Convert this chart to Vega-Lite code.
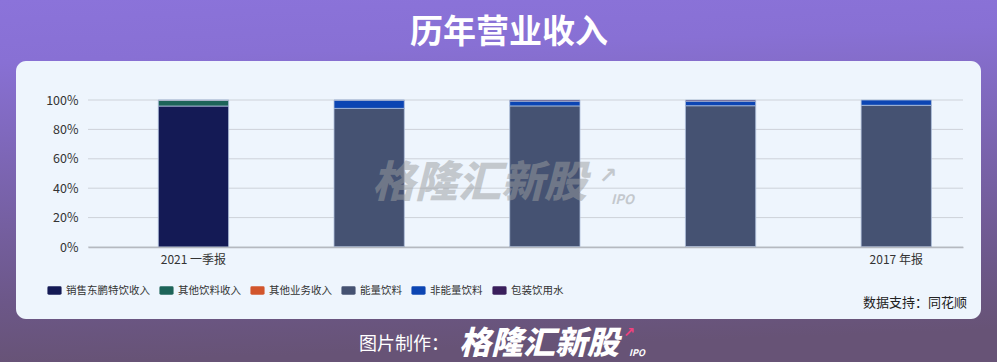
{
  "$schema": "https://vega.github.io/schema/vega-lite/v6.json",
  "width": 875,
  "height": 147,
  "autosize": {"type": "none"},
  "padding": {"left": 88, "top": 100, "right": 34, "bottom": 115},
  "background": "#7a64b0",
  "config": {
    "font": "Noto Sans CJK SC",
    "view": {"stroke": null}
  },
  "layer": [
    {
      "data": {"values": [{}]},
      "mark": {
        "type": "rect",
        "x": -88, "x2": 909, "y": -100, "y2": 262,
        "fill": {
          "gradient": "linear", "x1": 0, "y1": 0, "x2": 0.1, "y2": 1,
          "stops": [
            {"offset": 0, "color": "#8b73da"},
            {"offset": 0.17, "color": "#8870d4"},
            {"offset": 0.83, "color": "#6c5788"},
            {"offset": 1, "color": "#675376"}
          ]
        }
      },
      "encoding": {}
    },
    {
      "data": {"values": [{}]},
      "mark": {"type": "rect", "x": -72, "x2": 893, "y": -39, "y2": 219, "cornerRadius": 10, "fill": "#eef5fd"},
      "encoding": {}
    },
    {
      "data": {"values": [{"t": 0}, {"t": 0.2}, {"t": 0.4}, {"t": 0.6}, {"t": 0.8}, {"t": 1}]},
      "mark": {"type": "rule", "color": "#cdd2d9", "strokeWidth": 1},
      "encoding": {
        "y": {
          "field": "t",
          "type": "quantitative",
          "scale": {"domain": [0, 1], "nice": false},
          "axis": {
            "title": null,
            "format": ".0%",
            "values": [0, 0.2, 0.4, 0.6, 0.8, 1],
            "labelOverlap": false,
            "labelFlush": false,
            "grid": false,
            "domain": false,
            "ticks": false,
            "labelFontSize": 12.5,
            "labelColor": "#333333",
            "labelPadding": 10,
            "zindex": 1
          }
        }
      }
    },
    {
      "data": {
        "values": [
          {"period": "2021 一季报", "series": "销售东鹏特饮收入", "value": 95.9},
          {"period": "2021 一季报", "series": "其他饮料收入", "value": 3.9},
          {"period": "2021 一季报", "series": "其他业务收入", "value": 0.2},
          {"period": "2020 年报", "series": "其他业务收入", "value": 0.2},
          {"period": "2020 年报", "series": "能量饮料", "value": 94.1},
          {"period": "2020 年报", "series": "非能量饮料", "value": 5.6},
          {"period": "2020 年报", "series": "包装饮用水", "value": 0.1},
          {"period": "2019 年报", "series": "其他业务收入", "value": 0.2},
          {"period": "2019 年报", "series": "能量饮料", "value": 95.8},
          {"period": "2019 年报", "series": "非能量饮料", "value": 3.2},
          {"period": "2019 年报", "series": "包装饮用水", "value": 0.8},
          {"period": "2018 年报", "series": "其他业务收入", "value": 0.3},
          {"period": "2018 年报", "series": "能量饮料", "value": 95.8},
          {"period": "2018 年报", "series": "非能量饮料", "value": 3.1},
          {"period": "2018 年报", "series": "包装饮用水", "value": 0.8},
          {"period": "2017 年报", "series": "其他业务收入", "value": 0.1},
          {"period": "2017 年报", "series": "能量饮料", "value": 96.3},
          {"period": "2017 年报", "series": "非能量饮料", "value": 3.6}
        ]
      },
      "transform": [
        {"calculate": "indexof(['销售东鹏特饮收入', '其他饮料收入', '其他业务收入', '能量饮料', '非能量饮料', '包装饮用水'], datum.series)", "as": "stackRank"}
      ],
      "mark": {"type": "bar", "stroke": "#aebfdb", "strokeWidth": 0.8},
      "encoding": {
        "x": {
          "field": "period",
          "type": "nominal",
          "sort": null,
          "scale": {"paddingInner": 0.6, "paddingOuter": 0.29, "align": 0.69},
          "axis": {
            "title": null,
            "labelAngle": 0,
            "labelExpr": "datum.value == '2021 一季报' || datum.value == '2017 年报' ? datum.label : ''",
            "ticks": false,
            "grid": false,
            "domainColor": "#b5b9c0",
            "domainWidth": 1.6,
            "labelFontSize": 12,
            "labelColor": "#333333",
            "labelPadding": 7,
            "zindex": 1
          }
        },
        "y": {
          "field": "value",
          "type": "quantitative",
          "stack": "normalize",
          "scale": {"domain": [0, 1], "nice": false},
          "axis": {
            "title": null,
            "format": ".0%",
            "values": [0, 0.2, 0.4, 0.6, 0.8, 1],
            "labelOverlap": false,
            "labelFlush": false,
            "grid": false,
            "domain": false,
            "ticks": false,
            "labelFontSize": 12.5,
            "labelColor": "#333333",
            "labelPadding": 10,
            "zindex": 1
          }
        },
        "color": {
          "field": "series",
          "type": "nominal",
          "scale": {
            "domain": ["销售东鹏特饮收入", "其他饮料收入", "其他业务收入", "能量饮料", "非能量饮料", "包装饮用水"],
            "range": ["#141a55", "#1d6459", "#d2552c", "#455272", "#0c45b3", "#3a1f5c"]
          },
          "legend": {
            "orient": "none",
            "legendX": -41,
            "legendY": 183,
            "direction": "horizontal",
            "title": null,
            "symbolType": "M-0.8,-0.6L0.8,-0.6Q1,-0.6 1,-0.4L1,0.4Q1,0.6 0.8,0.6L-0.8,0.6Q-1,0.6 -1,0.4L-1,-0.4Q-1,-0.6 -0.8,-0.6Z",
            "symbolSize": 200,
            "symbolStrokeWidth": 0,
            "symbolOpacity": 1,
            "labelFontSize": 10.5,
            "labelColor": "#333333",
            "labelOffset": 4,
            "columnPadding": 9
          }
        },
        "order": {"field": "stackRank", "type": "quantitative"}
      }
    },
    {
      "data": {"values": [{}]},
      "mark": {"type": "text", "text": "格隆汇新股", "x": 284, "y": 84, "align": "left", "baseline": "middle", "fontSize": 43, "fontStyle": "italic", "fontWeight": 900, "fill": "#9a9c9e", "opacity": 0.5},
      "encoding": {}
    },
    {
      "data": {"values": [{}]},
      "mark": {"type": "text", "text": "IPO", "x": 523, "y": 100, "align": "left", "baseline": "middle", "fontSize": 13, "fontStyle": "italic", "fontWeight": "bold", "fill": "#9a9c9e", "opacity": 0.5},
      "encoding": {}
    },
    {
      "data": {"values": [{}]},
      "mark": {"type": "text", "text": "↗", "font": "DejaVu Sans", "x": 520, "y": 76, "align": "center", "baseline": "middle", "fontSize": 22, "fontWeight": "bold", "fill": "#9a9c9e", "opacity": 0.5},
      "encoding": {}
    },
    {
      "data": {"values": [{}]},
      "mark": {"type": "text", "text": "历年营业收入", "x": 421, "y": -67, "align": "center", "baseline": "middle", "fontSize": 33, "fontWeight": "bold", "fill": "#ffffff"},
      "encoding": {}
    },
    {
      "data": {"values": [{}]},
      "mark": {"type": "text", "text": "数据支持：同花顺", "x": 879, "y": 203, "align": "right", "baseline": "middle", "fontSize": 13, "fill": "#222222"},
      "encoding": {}
    },
    {
      "data": {"values": [{}]},
      "mark": {"type": "text", "text": "图片制作：", "x": 271, "y": 245, "align": "left", "baseline": "middle", "fontSize": 18, "fill": "#ffffff"},
      "encoding": {}
    },
    {
      "data": {"values": [{}]},
      "mark": {"type": "text", "text": "格隆汇新股", "x": 371, "y": 244, "align": "left", "baseline": "middle", "fontSize": 32, "fontStyle": "italic", "fontWeight": 900, "fill": "#ffffff"},
      "encoding": {}
    },
    {
      "data": {"values": [{}]},
      "mark": {"type": "text", "text": "IPO", "x": 541, "y": 253, "align": "left", "baseline": "middle", "fontSize": 9, "fontStyle": "italic", "fontWeight": "bold", "fill": "#ffffff"},
      "encoding": {}
    },
    {
      "data": {"values": [{}]},
      "mark": {"type": "text", "text": "↗", "font": "DejaVu Sans", "x": 541, "y": 233, "align": "center", "baseline": "middle", "fontSize": 14, "fontWeight": "bold", "fill": "#f0417e"},
      "encoding": {}
    }
  ]
}
